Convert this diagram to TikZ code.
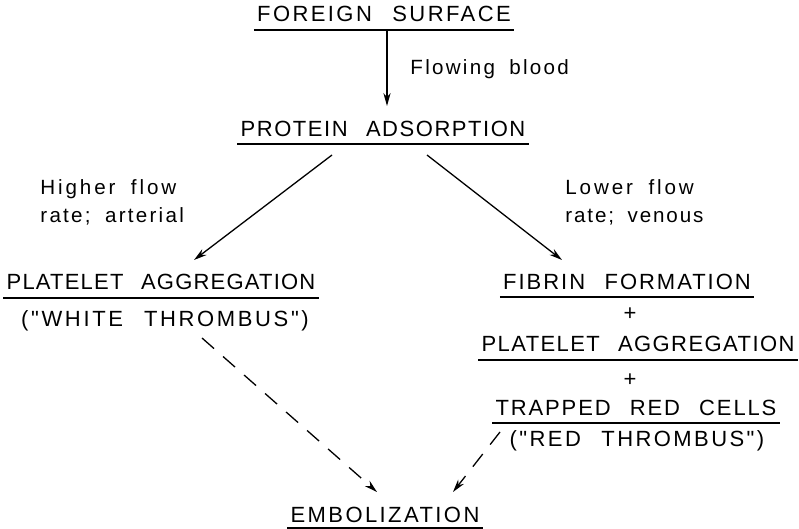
\documentclass[tikz,border=0pt]{standalone}
\usepackage{fontspec}
\setmainfont{Liberation Sans}
\newcommand\ttlfont[1]{\fontspec[LetterSpace=#1,WordSpace=2.4]{Liberation Sans}\fontsize{11}{13}\selectfont}
\newcommand\lblfnt[1]{\fontspec[LetterSpace=#1,WordSpace=1.8]{Liberation Sans}\fontsize{10.3}{12}\selectfont}
\usetikzlibrary{arrows.meta,calc}
\tikzset{
  ttl/.style={inner sep=0pt,anchor=base,font=\ttlfont{#1}},
  ttl/.default=8,
  lbl/.style={inner sep=0pt,anchor=base west,font=\lblfnt{#1}},
  lbl/.default=12,
  uline/.style={line width=0.65pt},
  flow/.style={line width=0.65pt,-{Stealth[length=6.5pt,width=3.6pt]}},
  dflow/.style={flow,dash pattern=on 8pt off 6pt}
}
\begin{document}
\begin{tikzpicture}[x=0.5pt,y=-0.5pt]
\path[use as bounding box] (0,0) rectangle (799,529);
\node[ttl=11] (fs) at (384,22) {FOREIGN SURFACE};
\node[ttl=7] (pa) at (383,137) {PROTEIN ADSORPTION};
\node[lbl=11] (fb) at (410,75) {Flowing blood};
\node[ttl=5.5] (plL) at (161,290) {PLATELET AGGREGATION};
\node[ttl=12] (white) at (165,327) {("WHITE THROMBUS")};
\node[lbl=14] (hf1) at (40,195) {Higher flow};
\node[lbl=11] (hf2) at (40,223) {rate; arterial};
\node[lbl=14] (lf1) at (565,195) {Lower flow};
\node[lbl=9] (lf2) at (565,223) {rate; venous};
\node[ttl=9] (fib) at (627,290) {FIBRIN FORMATION};
\node[ttl] (p1) at (630,321) {+};
\node[ttl=6.5] (plR) at (638,352) {PLATELET AGGREGATION};
\node[ttl] (p2) at (630,387) {+};
\node[ttl=8.5] (tr) at (636,416) {TRAPPED RED CELLS};
\node[ttl=11] (red) at (637,447) {("RED THROMBUS")};
\node[ttl=11] (emb) at (385,523) {EMBOLIZATION};
% underlines
\foreach \n/\d in {fs/8,pa/7,plL/8,fib/7,plR/8,tr/7,emb/5}{
  \draw[uline] ($(\n.base west)+(-3,\d)$) -- ($(\n.base east)+(3,\d)$);
}
% connectors
\draw[flow] ($(fs.base)+(3,8)$) -- ($(pa.base)+(4,-31)$);
\draw[flow] ($(pa.base)+(-51,18)$) -- ($(plL.base)+(33,-30)$);
\draw[flow] ($(pa.base)+(44,18)$) -- ($(fib.base)+(-65,-30)$);
\draw[dflow] ($(white.base)+(37,11)$) -- ($(emb.base)+(-8,-31)$);
\draw[dflow] ($(red.base)+(-137,-15)$) -- ($(emb.base)+(68,-31)$);
\end{tikzpicture}
\end{document}
